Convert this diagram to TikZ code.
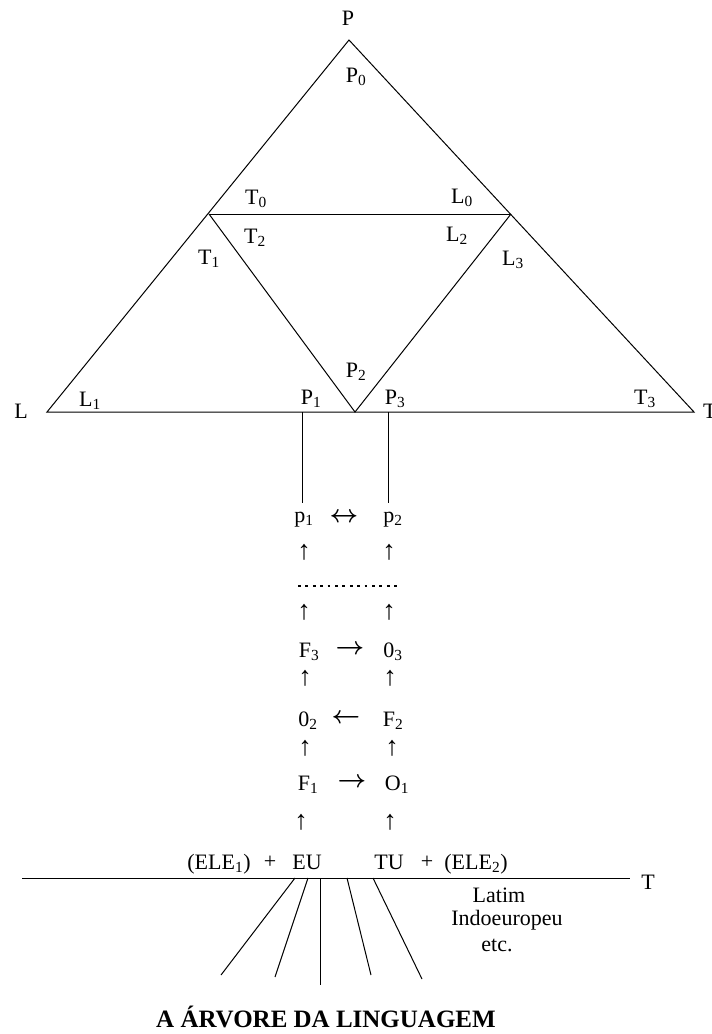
\documentclass[tikz,border=0pt]{standalone}
\usepackage{fontspec}
\setmainfont{Liberation Serif}
\newcommand\sbx[1]{\textsubscript{#1}}
\begin{document}
\begin{tikzpicture}[x=1pt,y=-1pt,
  lbl/.style={font=\fontsize{22}{26}\selectfont, inner sep=0pt},
  up/.style={font=\fontsize{27}{30}\selectfont, inner sep=0pt},
  harr/.style={font=\fontsize{30}{32}\selectfont\boldmath, inner sep=0pt},
  edge/.style={line width=1pt, black},
  title/.style={font=\fontsize{25}{29}\selectfont\bfseries, inner sep=0pt}]
\useasboundingbox (0,0) rectangle (712,1034);
% geometry
\coordinate (apex) at (349,40);
\coordinate (vL) at (47,412);
\coordinate (vT) at (694,412);
\coordinate (mL) at (209,214);
\coordinate (mR) at (511,214);
\coordinate (vB) at (355,412);
\coordinate (s1t) at (302,412);
\coordinate (s1b) at (302,503);
\coordinate (s2t) at (388,412);
\coordinate (s2b) at (388,503);
\coordinate (bl) at (22,878);
\coordinate (br) at (630,878);
\draw[edge] (vL) -- (apex) -- (vT) -- cycle;
\draw[edge] (mL) -- (mR);
\draw[edge] (mL) -- (vB) -- (mR);
\draw[edge] (s1t) -- (s1b);
\draw[edge] (s2t) -- (s2b);
\draw[edge] (bl) -- (br);
% fan of roots
\coordinate (f1t) at (295,878); \coordinate (f1b) at (221,975);
\coordinate (f2t) at (308,878); \coordinate (f2b) at (275,977);
\coordinate (f3t) at (320,878); \coordinate (f3b) at (320,985);
\coordinate (f4t) at (347,878); \coordinate (f4b) at (371,975);
\coordinate (f5t) at (373,878); \coordinate (f5b) at (422,979);
\foreach \i in {1,...,5} {\draw[edge] (f\i t) -- (f\i b);}
% triangle labels
\node[lbl] (P) at (348,18) {P};
\node[lbl] (P0) at (356,77) {P\sbx{0}};
\node[lbl] (T0) at (256,199) {T\sbx{0}};
\node[lbl] (L0) at (462,198) {L\sbx{0}};
\node[lbl] (T2) at (255,238) {T\sbx{2}};
\node[lbl] (L2) at (457,236) {L\sbx{2}};
\node[lbl] (T1) at (209,259) {T\sbx{1}};
\node[lbl] (L3) at (513,260) {L\sbx{3}};
\node[lbl] (P2) at (356,372) {P\sbx{2}};
\node[lbl] (L1) at (90,401) {L\sbx{1}};
\node[lbl] (P1) at (311,399) {P\sbx{1}};
\node[lbl] (P3) at (395,399) {P\sbx{3}};
\node[lbl] (T3) at (645,399) {T\sbx{3}};
\node[lbl] (L) at (21,411) {L};
\node[lbl,anchor=west] (T) at (703,411) {T};
% middle column
\node[lbl] (p1) at (304,520) {p\sbx{1}};
\node[harr] (a1) at (344,518) {$\leftrightarrow$};
\node[lbl] (p2) at (393,520) {p\sbx{2}};
\node[up] (u1a) at (304,552) {↑};
\node[up] (u1b) at (389,552) {↑};
\coordinate (d1) at (298,586);
\coordinate (d2) at (399,586);
\draw[line width=2.8pt, dash pattern=on 2.8pt off 4.6pt] (d1) -- (d2);
\node[up] (u2a) at (304,612) {↑};
\node[up] (u2b) at (389,612) {↑};
\node[lbl] (F3) at (309,652) {F\sbx{3}};
\node[harr] (a2) at (350,650) {$\rightarrow$};
\node[lbl] (O3) at (393,652) {0\sbx{3}};
\node[up] (u3a) at (305,678) {↑};
\node[up] (u3b) at (390,678) {↑};
\node[lbl] (O2) at (308,721) {0\sbx{2}};
\node[harr] (a3) at (346,719) {$\leftarrow$};
\node[lbl] (F2) at (393,721) {F\sbx{2}};
\node[up] (u4a) at (305,748) {↑};
\node[up] (u4b) at (392,748) {↑};
\node[lbl] (F1) at (308,785) {F\sbx{1}};
\node[harr] (a4) at (352,783) {$\rightarrow$};
\node[lbl] (O1) at (397,785) {O\sbx{1}};
\node[up] (u5a) at (301,822) {↑};
\node[up] (u5b) at (390,822) {↑};
% base row
\node[lbl] (ele1) at (219,864) {(ELE\sbx{1})};
\node[lbl] (plus1) at (270,862) {+};
\node[lbl] (EU) at (307,862) {EU};
\node[lbl] (TU) at (389,862) {TU};
\node[lbl] (plus2) at (427,862) {+};
\node[lbl] (ele2) at (476,864) {(ELE\sbx{2})};
\node[lbl] (T4) at (648,882) {T};
\node[lbl] (latim) at (499,895) {Latim};
\node[lbl] (indo) at (507,920) {Indoeuropeu};
\node[lbl] (etc) at (497,945) {etc.};
\node[title] (tit) at (326,1017) {A ÁRVORE DA LINGUAGEM};
\end{tikzpicture}
\end{document}
